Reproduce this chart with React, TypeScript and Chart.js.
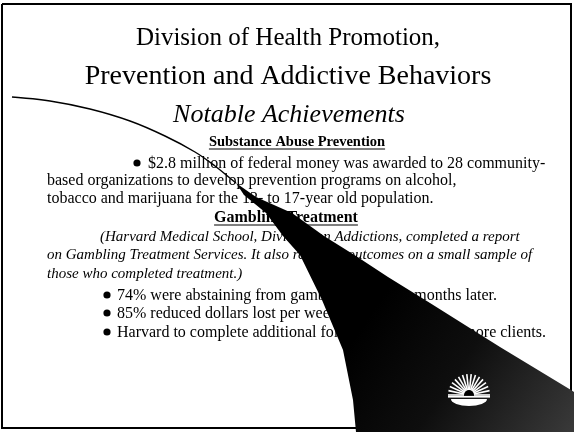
import React, { useEffect, useRef } from "react";
import { Chart, registerables } from "chart.js";

Chart.register(...registerables);

// ---------- data ----------
const titleLines = ["Division of Health Promotion,", "Prevention and Addictive Behaviors"];
const subtitleText = "Notable Achievements";
const headings = ["Substance Abuse Prevention", "Gambling Treatment"];
const substanceLines = [
  "$2.8 million of federal money was awarded to 28 community-",
  "based organizations to develop prevention programs on alcohol,",
  "tobacco and marijuana for the 12- to 17-year old population.",
];
const noteLines = [
  "(Harvard Medical School, Division on Addictions, completed a report",
  "on Gambling Treatment Services. It also reported outcomes on a small sample of",
  "those who completed treatment.)",
];
const bulletHeads = [
  "74% were abstaining from gambling",
  "85% reduced dollars lost per week",
  "Harvard to complete additional follow-up",
];
const bulletTails = ["six months later.", "gambling.", "with more clients."];

// swoosh outline (slide coordinates)
const swooshX = [236, 256, 292, 324, 356, 388, 430, 500, 571, 574, 574, 356, 353, 343, 322, 300, 283, 266, 244, 236];
const swooshY = [183, 197, 213, 236, 256, 277, 303, 347, 390, 392, 432, 432, 400, 350, 300, 255, 236, 213, 195, 183];
// thin leading stroke
const strokeX = [12, 50, 90, 130, 165, 195, 215, 236];
const strokeY = [97, 101, 109, 121, 136, 152, 166, 183];
// slide frame
const frameX = [2, 571, 571, 2, 2];
const frameY = [4, 4, 428, 428, 4];

// ---------- layout ----------
const W = 576;
const H = 433;
const SERIF = '"Liberation Serif", "Times New Roman", serif';
const titleY = [45, 84];
const titleSize = [25, 28];
const subtitleY = 122;
const headingY = [146, 222];
const headingX = [297, 286];
const headingSize = [14.5, 16];
const substancePos = [[148, 168], [47, 185], [47, 203]];
const substanceBulletX = 133;
const notePos = [[100, 241], [47, 259], [47, 278]];
const bulletY = [300, 318, 337];
const bulletDotX = 103;
const bulletTextX = 117;
const bulletTailRight = [497, 420, 546];

const pts = (xs: number[], ys: number[]) => xs.map((x, i) => ({ x, y: ys[i] }));

const textPlugin = {
  id: "slideText",
  beforeDatasetsDraw(chart: any) {
    const { ctx, scales } = chart;
    const px = (v: number) => scales.x.getPixelForValue(v);
    const py = (v: number) => scales.y.getPixelForValue(v);
    ctx.save();
    ctx.fillStyle = "#000";
    ctx.strokeStyle = "#000";
    ctx.textBaseline = "alphabetic";

    ctx.textAlign = "center";
    titleLines.forEach((t, i) => {
      ctx.font = `${titleSize[i]}px ${SERIF}`;
      ctx.fillText(t, px(288), py(titleY[i]));
    });
    ctx.font = `italic 26px ${SERIF}`;
    ctx.fillText(subtitleText, px(289), py(subtitleY));

    headings.forEach((t, i) => {
      ctx.font = `bold ${headingSize[i]}px ${SERIF}`;
      const w = ctx.measureText(t).width;
      const cx = px(headingX[i]);
      ctx.fillText(t, cx, py(headingY[i]));
      ctx.lineWidth = 1.2;
      ctx.beginPath();
      ctx.moveTo(cx - w / 2, py(headingY[i] + 3));
      ctx.lineTo(cx + w / 2, py(headingY[i] + 3));
      ctx.stroke();
    });

    ctx.textAlign = "left";
    ctx.font = `16px ${SERIF}`;
    substanceLines.forEach((t, i) => ctx.fillText(t, px(substancePos[i][0]), py(substancePos[i][1])));
    ctx.font = `italic 15px ${SERIF}`;
    noteLines.forEach((t, i) => ctx.fillText(t, px(notePos[i][0]), py(notePos[i][1])));

    ctx.font = `16px ${SERIF}`;
    bulletHeads.forEach((t, i) => ctx.fillText(t, px(bulletTextX), py(bulletY[i])));
    ctx.textAlign = "right";
    bulletTails.forEach((t, i) => ctx.fillText(t, px(bulletTailRight[i]), py(bulletY[i])));

    // bullets
    const dot = (x: number, y: number) => {
      ctx.beginPath();
      ctx.arc(px(x), py(y), 3.6, 0, Math.PI * 2);
      ctx.fill();
    };
    dot(substanceBulletX + 4, substancePos[0][1] - 5);
    bulletY.forEach((y) => dot(bulletDotX + 4, y - 5));
    ctx.restore();
  },
};

const logoCenter = [469, 395];
const logoRadius = 21;
const logoRays = 15;

const logoPlugin = {
  id: "logo",
  afterDatasetsDraw(chart: any) {
    const { ctx, scales } = chart;
    const px = (v: number) => scales.x.getPixelForValue(v);
    const py = (v: number) => scales.y.getPixelForValue(v);
    const cx = px(logoCenter[0]);
    const cy = py(logoCenter[1]);
    ctx.save();
    ctx.strokeStyle = "#fff";
    ctx.fillStyle = "#fff";
    ctx.lineWidth = 1.6;
    for (let i = 0; i <= logoRays; i++) {
      const a = Math.PI + (Math.PI * i) / logoRays;
      ctx.beginPath();
      ctx.moveTo(cx + Math.cos(a) * 5, cy + Math.sin(a) * 5);
      ctx.lineTo(cx + Math.cos(a) * logoRadius, cy + Math.sin(a) * logoRadius);
      ctx.stroke();
    }
    ctx.fillStyle = "#000";
    ctx.beginPath();
    ctx.arc(cx, cy, 4.5, Math.PI, 2 * Math.PI);
    ctx.fill();
    ctx.fillStyle = "#fff";
    ctx.fillRect(cx - logoRadius, cy + 1, logoRadius * 2, 1.6);
    ctx.beginPath();
    ctx.ellipse(cx, cy + 4, logoRadius - 3, 7, 0, 0, Math.PI);
    ctx.fill();
    ctx.restore();
  },
};

const bgPlugin = {
  id: "bg",
  beforeDraw(chart: any) {
    const { ctx } = chart;
    ctx.save();
    ctx.fillStyle = "#fff";
    ctx.fillRect(0, 0, chart.width, chart.height);
    ctx.restore();
  },
};

export default function App() {
  const ref = useRef<HTMLCanvasElement | null>(null);
  useEffect(() => {
    if (!ref.current) return;
    const chart = new Chart(ref.current, {
      type: "scatter",
      data: {
        datasets: [
          {
            data: pts(swooshX, swooshY),
            showLine: true,
            fill: "shape",
            tension: 0,
            borderWidth: 0,
            borderColor: "#000",
            pointRadius: 0,
            backgroundColor: (c: any) => {
              const ch = c.chart;
              if (!ch.chartArea || !ch.scales.x) return "#000";
              const g = ch.ctx.createLinearGradient(
                ch.scales.x.getPixelForValue(380),
                ch.scales.y.getPixelForValue(300),
                ch.scales.x.getPixelForValue(571),
                ch.scales.y.getPixelForValue(428)
              );
              g.addColorStop(0, "#000");
              g.addColorStop(0.45, "#0e0e0e");
              g.addColorStop(1, "#383838");
              return g;
            },
          },
          {
            data: pts(strokeX, strokeY),
            showLine: true,
            fill: false,
            tension: 0.4,
            borderWidth: 1.4,
            borderColor: "#000",
            pointRadius: 0,
          },
          {
            data: pts(frameX, frameY),
            showLine: true,
            fill: false,
            tension: 0,
            borderWidth: 2,
            borderColor: "#000",
            pointRadius: 0,
          },
        ],
      },
      options: {
        animation: false,
        responsive: false,
        events: [],
        layout: { padding: 0 },
        plugins: { legend: { display: false }, tooltip: { enabled: false } },
        scales: {
          x: { type: "linear", min: 0, max: W, display: false },
          y: { type: "linear", min: 0, max: H, reverse: true, display: false },
        },
      },
      plugins: [bgPlugin, textPlugin, logoPlugin],
    } as any);
    return () => chart.destroy();
  }, []);
  return (
    <div style={{ position: "absolute", left: 0, top: 0, width: W, height: H }}>
      <canvas ref={ref} width={W} height={H} style={{ width: W, height: H, display: "block" }} />
    </div>
  );
}
